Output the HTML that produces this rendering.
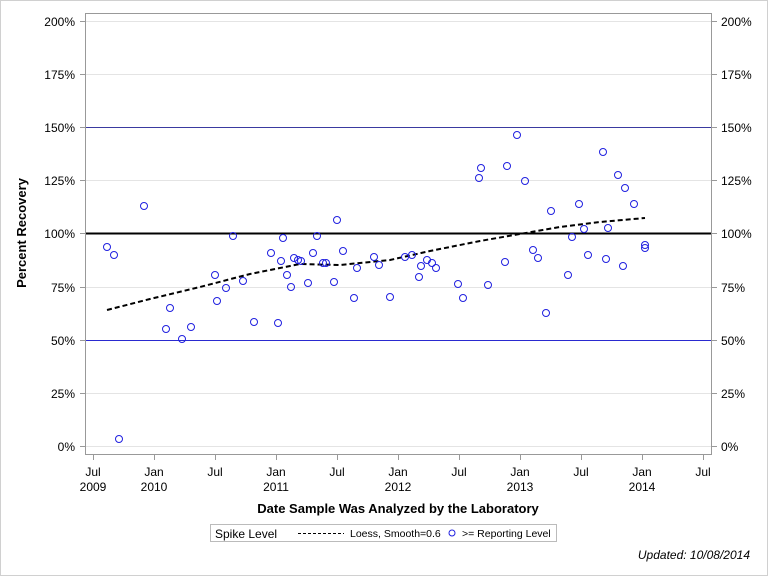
<!DOCTYPE html>
<html><head><meta charset="utf-8"><style>
body{margin:0;background:#fff}
svg{display:block;font-family:"Liberation Sans",Arial,sans-serif}
</style></head><body>
<svg width="768" height="576" viewBox="0 0 768 576" xmlns="http://www.w3.org/2000/svg">
<rect x="0.5" y="0.5" width="767" height="575" fill="#fff" stroke="#d0d0d0"/>
<g stroke="#e4e4e4" stroke-width="1">
<line x1="86" x2="711" y1="21.5" y2="21.5"/><line x1="86" x2="711" y1="74.5" y2="74.5"/>
<line x1="86" x2="711" y1="180.5" y2="180.5"/><line x1="86" x2="711" y1="287.5" y2="287.5"/>
<line x1="86" x2="711" y1="393.5" y2="393.5"/><line x1="86" x2="711" y1="446.5" y2="446.5"/>
</g>
<line x1="86" x2="711" y1="127.5" y2="127.5" stroke="#3a3aa0" stroke-width="1"/>
<line x1="86" x2="711" y1="340.5" y2="340.5" stroke="#2a2ad0" stroke-width="1"/>
<line x1="86" x2="711" y1="233.5" y2="233.5" stroke="#000" stroke-width="2"/>
<rect x="85.5" y="13.5" width="626" height="441" fill="none" stroke="#999"/>
<g stroke="#999">
<line x1="80" x2="85" y1="21.5" y2="21.5"/><line x1="80" x2="85" y1="74.5" y2="74.5"/><line x1="80" x2="85" y1="127.5" y2="127.5"/><line x1="80" x2="85" y1="180.5" y2="180.5"/><line x1="80" x2="85" y1="233.5" y2="233.5"/><line x1="80" x2="85" y1="287.5" y2="287.5"/><line x1="80" x2="85" y1="340.5" y2="340.5"/><line x1="80" x2="85" y1="393.5" y2="393.5"/><line x1="80" x2="85" y1="446.5" y2="446.5"/>
<line x1="712" x2="717" y1="21.5" y2="21.5"/><line x1="712" x2="717" y1="74.5" y2="74.5"/><line x1="712" x2="717" y1="127.5" y2="127.5"/><line x1="712" x2="717" y1="180.5" y2="180.5"/><line x1="712" x2="717" y1="233.5" y2="233.5"/><line x1="712" x2="717" y1="287.5" y2="287.5"/><line x1="712" x2="717" y1="340.5" y2="340.5"/><line x1="712" x2="717" y1="393.5" y2="393.5"/><line x1="712" x2="717" y1="446.5" y2="446.5"/>
<line x1="93.5" x2="93.5" y1="455" y2="460"/><line x1="154.5" x2="154.5" y1="455" y2="460"/><line x1="215.5" x2="215.5" y1="455" y2="460"/><line x1="276.5" x2="276.5" y1="455" y2="460"/><line x1="337.5" x2="337.5" y1="455" y2="460"/><line x1="398.5" x2="398.5" y1="455" y2="460"/><line x1="459.5" x2="459.5" y1="455" y2="460"/><line x1="520.5" x2="520.5" y1="455" y2="460"/><line x1="581.5" x2="581.5" y1="455" y2="460"/><line x1="642.5" x2="642.5" y1="455" y2="460"/><line x1="703.5" x2="703.5" y1="455" y2="460"/>
</g>
<g font-size="12" fill="#000" text-anchor="end">
<text x="75" y="26">200%</text><text x="75" y="79">175%</text><text x="75" y="132">150%</text><text x="75" y="185">125%</text><text x="75" y="238">100%</text><text x="75" y="292">75%</text><text x="75" y="345">50%</text><text x="75" y="398">25%</text><text x="75" y="451">0%</text>
</g>
<g font-size="12" fill="#000" text-anchor="start">
<text x="721" y="26">200%</text><text x="721" y="79">175%</text><text x="721" y="132">150%</text><text x="721" y="185">125%</text><text x="721" y="238">100%</text><text x="721" y="292">75%</text><text x="721" y="345">50%</text><text x="721" y="398">25%</text><text x="721" y="451">0%</text>
</g>
<g font-size="12" fill="#000" text-anchor="middle">
<text x="93" y="476">Jul</text><text x="93" y="491">2009</text>
<text x="154" y="476">Jan</text><text x="154" y="491">2010</text>
<text x="215" y="476">Jul</text>
<text x="276" y="476">Jan</text><text x="276" y="491">2011</text>
<text x="337" y="476">Jul</text>
<text x="398" y="476">Jan</text><text x="398" y="491">2012</text>
<text x="459" y="476">Jul</text>
<text x="520" y="476">Jan</text><text x="520" y="491">2013</text>
<text x="581" y="476">Jul</text>
<text x="642" y="476">Jan</text><text x="642" y="491">2014</text>
<text x="703" y="476">Jul</text>
</g>
<text x="398" y="513" font-size="13" font-weight="bold" text-anchor="middle">Date Sample Was Analyzed by the Laboratory</text>
<text transform="translate(26,233) rotate(-90)" font-size="13" font-weight="bold" text-anchor="middle">Percent Recovery</text>
<polyline fill="none" stroke="#000" stroke-width="2" stroke-dasharray="5,3" points="107,310 150,299 200,287 250,274 300,264 340,265 390,260 430,251 480,241 520,234 560,227 600,222 645,218"/>
<g fill="none" stroke="#2020e0" stroke-width="1">
<circle cx="107" cy="247" r="3.5"/><circle cx="114" cy="255" r="3.5"/><circle cx="119" cy="439" r="3.5"/><circle cx="144" cy="206" r="3.5"/><circle cx="166" cy="329" r="3.5"/><circle cx="170" cy="308" r="3.5"/><circle cx="182" cy="339" r="3.5"/><circle cx="191" cy="327" r="3.5"/><circle cx="215" cy="275" r="3.5"/><circle cx="217" cy="301" r="3.5"/><circle cx="226" cy="288" r="3.5"/><circle cx="233" cy="236" r="3.5"/><circle cx="243" cy="281" r="3.5"/><circle cx="254" cy="322" r="3.5"/><circle cx="271" cy="253" r="3.5"/><circle cx="278" cy="323" r="3.5"/><circle cx="281" cy="261" r="3.5"/><circle cx="283" cy="238" r="3.5"/><circle cx="287" cy="275" r="3.5"/><circle cx="291" cy="287" r="3.5"/><circle cx="294" cy="258" r="3.5"/><circle cx="298" cy="260" r="3.5"/><circle cx="301" cy="261" r="3.5"/><circle cx="308" cy="283" r="3.5"/><circle cx="313" cy="253" r="3.5"/><circle cx="317" cy="236" r="3.5"/><circle cx="323" cy="263" r="3.5"/><circle cx="326" cy="263" r="3.5"/><circle cx="334" cy="282" r="3.5"/><circle cx="337" cy="220" r="3.5"/><circle cx="343" cy="251" r="3.5"/><circle cx="354" cy="298" r="3.5"/><circle cx="357" cy="268" r="3.5"/><circle cx="374" cy="257" r="3.5"/><circle cx="379" cy="265" r="3.5"/><circle cx="390" cy="297" r="3.5"/><circle cx="405" cy="257" r="3.5"/><circle cx="412" cy="255" r="3.5"/><circle cx="419" cy="277" r="3.5"/><circle cx="421" cy="266" r="3.5"/><circle cx="427" cy="260" r="3.5"/><circle cx="432" cy="263" r="3.5"/><circle cx="436" cy="268" r="3.5"/><circle cx="458" cy="284" r="3.5"/><circle cx="463" cy="298" r="3.5"/><circle cx="479" cy="178" r="3.5"/><circle cx="481" cy="168" r="3.5"/><circle cx="488" cy="285" r="3.5"/><circle cx="505" cy="262" r="3.5"/><circle cx="507" cy="166" r="3.5"/><circle cx="517" cy="135" r="3.5"/><circle cx="525" cy="181" r="3.5"/><circle cx="533" cy="250" r="3.5"/><circle cx="538" cy="258" r="3.5"/><circle cx="546" cy="313" r="3.5"/><circle cx="551" cy="211" r="3.5"/><circle cx="568" cy="275" r="3.5"/><circle cx="572" cy="237" r="3.5"/><circle cx="579" cy="204" r="3.5"/><circle cx="584" cy="229" r="3.5"/><circle cx="588" cy="255" r="3.5"/><circle cx="603" cy="152" r="3.5"/><circle cx="606" cy="259" r="3.5"/><circle cx="608" cy="228" r="3.5"/><circle cx="618" cy="175" r="3.5"/><circle cx="623" cy="266" r="3.5"/><circle cx="625" cy="188" r="3.5"/><circle cx="634" cy="204" r="3.5"/><circle cx="645" cy="245" r="3.5"/><circle cx="645" cy="248" r="3.5"/>
</g>
<rect x="210.5" y="524.5" width="346" height="17" fill="#fff" stroke="#bbb"/>
<text x="215" y="538" font-size="12">Spike Level</text>
<line x1="298" x2="344" y1="533.5" y2="533.5" stroke="#000" stroke-width="1" stroke-dasharray="3,2"/>
<text x="350" y="537" font-size="10.5">Loess, Smooth=0.6</text>
<circle cx="452" cy="533" r="3" fill="none" stroke="#2020e0"/>
<text x="462" y="537" font-size="10.5">&gt;= Reporting Level</text>
<text x="750" y="559" font-size="12" font-style="italic" text-anchor="end">Updated: 10/08/2014</text>
</svg>
</body></html>
